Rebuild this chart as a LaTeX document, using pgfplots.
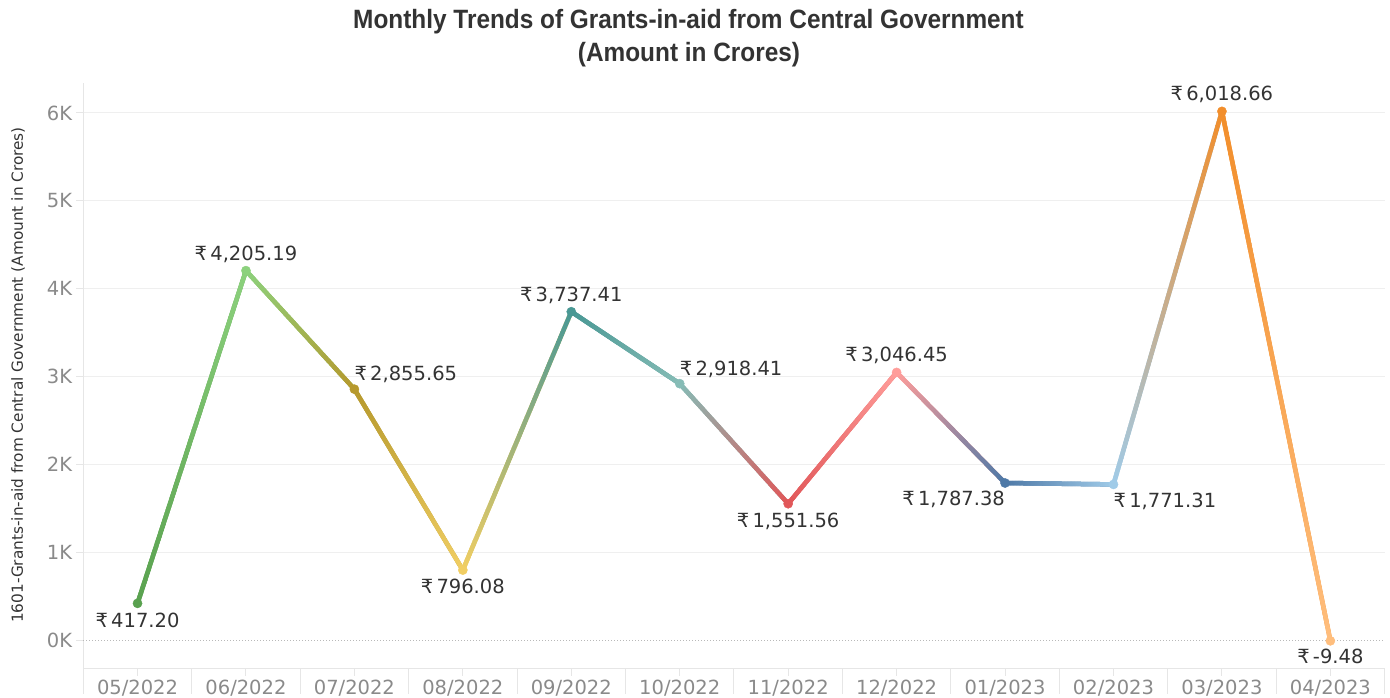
\documentclass[border=0pt]{standalone}
\usepackage{pgfplots}
\pgfplotsset{compat=1.18}
\usepackage{pgfplotstable}
\usepackage{fontspec}
\setmainfont{DejaVu Sans}
\newfontfamily\titlefont[FakeStretch=0.92]{Liberation Sans}
\usetikzlibrary{decorations.markings}

\definecolor{c0}{HTML}{59A14F}
\definecolor{c1}{HTML}{8CD17D}
\definecolor{c2}{HTML}{B6992D}
\definecolor{c3}{HTML}{F1CE63}
\definecolor{c4}{HTML}{499894}
\definecolor{c5}{HTML}{86BCB6}
\definecolor{c6}{HTML}{E15759}
\definecolor{c7}{HTML}{FF9D9A}
\definecolor{c8}{HTML}{4E79A7}
\definecolor{c9}{HTML}{A0CBE8}
\definecolor{c10}{HTML}{F28E2B}
\definecolor{c11}{HTML}{FFBE7D}
\definecolor{tickgray}{HTML}{8A8A8A}
\definecolor{gridgray}{HTML}{EFEFEF}
\definecolor{axgray}{HTML}{E6E6E6}
\definecolor{labgray}{HTML}{333333}

\pgfplotstableread{
x y
0 417.20
1 4205.19
2 2855.65
3 796.08
4 3737.41
5 2918.41
6 1551.56
7 3046.45
8 1787.38
9 1771.31
10 6018.66
11 -9.48
}\datatable

\pgfplotsset{
  grad/.style 2 args={line width=4.5pt, line cap=round, mark=none, color=#1,
    postaction={decorate},
    decoration={markings, mark=between positions 0 and 0.995 step 0.01 with {%
      \pgfmathsetmacro\gp{\pgfkeysvalueof{/pgf/decoration/mark info/sequence number}-0.5}%
      \pgfmathsetmacro\gl{\pgfdecoratedpathlength*0.01+0.7}%
      \draw[line width=4.5pt, line cap=butt, color=#2!\gp!#1] (0pt,0pt) -- (\gl pt,0pt);%
    }}},
  dot/.style={only marks, mark=*, mark size=4.6pt, draw=#1, fill=#1, mark options={draw=#1, fill=#1}},
  lab/.style 2 args={point meta=y,
    nodes near coords={₹\,\pgfmathprintnumber[fixed, fixed zerofill, precision=2, 1000 sep={,}, assume math mode=true]{\pgfplotspointmeta}},
    nodes near coords style={font=\fontsize{19.5}{19.5}\selectfont, text=labgray, inner sep=0pt, anchor=#1, yshift=#2}},
}

\begin{document}
\begin{tikzpicture}[x=1pt,y=1pt]
\begin{axis}[
  at={(83.3pt,29pt)}, anchor=south west,
  scale only axis, width=1301.3pt, height=586.3pt,
  xmin=-0.5, xmax=11.5, ymin=-330, ymax=6345,
  clip=false,
  axis x line*=bottom, axis y line*=left,
  axis line style={draw=axgray, line width=1pt},
  xtick={0,...,11},
  xticklabels={05/2022,06/2022,07/2022,08/2022,09/2022,10/2022,11/2022,12/2022,01/2023,02/2023,03/2023,04/2023},
  extra x ticks={-0.5,0.5,...,11.5},
  extra x tick labels={},
  extra x tick style={major tick length=25pt, tick align=outside, grid=none},
  ytick={1000,2000,...,6000},
  yticklabels={1K,2K,3K,4K,5K,6K},
  extra y ticks={0},
  extra y tick labels={0K},
  extra y tick style={grid style={draw=gray!55, dotted, line width=1pt}},
  ymajorgrids,
  grid style={draw=gridgray, line width=1pt},
  tick align=outside,
  major tick length=7pt,
  tick style={draw=axgray, line width=1pt},
  xticklabel style={font=\fontsize{19.5}{19.5}\selectfont, text=tickgray, inner sep=0pt, anchor=north, yshift=-4pt},
  yticklabel style={font=\fontsize{19.5}{19.5}\selectfont, text=tickgray, inner sep=0pt, anchor=east, xshift=-4pt},
]
% segments shaded from the colour of the left point to the colour of the right point
\addplot[grad={c0}{c1}, restrict x to domain=0:1] table[x=x,y=y]{\datatable};
\addplot[grad={c1}{c2}, restrict x to domain=1:2] table[x=x,y=y]{\datatable};
\addplot[grad={c2}{c3}, restrict x to domain=2:3] table[x=x,y=y]{\datatable};
\addplot[grad={c3}{c4}, restrict x to domain=3:4] table[x=x,y=y]{\datatable};
\addplot[grad={c4}{c5}, restrict x to domain=4:5] table[x=x,y=y]{\datatable};
\addplot[grad={c5}{c6}, restrict x to domain=5:6] table[x=x,y=y]{\datatable};
\addplot[grad={c6}{c7}, restrict x to domain=6:7] table[x=x,y=y]{\datatable};
\addplot[grad={c7}{c8}, restrict x to domain=7:8] table[x=x,y=y]{\datatable};
\addplot[grad={c8}{c9}, restrict x to domain=8:9] table[x=x,y=y]{\datatable};
\addplot[grad={c9}{c10}, restrict x to domain=9:10] table[x=x,y=y]{\datatable};
\addplot[grad={c10}{c11}, restrict x to domain=10:11] table[x=x,y=y]{\datatable};
% point markers with value labels
\addplot[dot=c0, restrict x to domain=0:0, lab={north}{-9pt}] table[x=x,y=y]{\datatable};
\addplot[dot=c1, restrict x to domain=1:1, lab={south}{8pt}] table[x=x,y=y]{\datatable};
\addplot[dot=c2, restrict x to domain=2:2, lab={south west}{6pt}] table[x=x,y=y]{\datatable};
\addplot[dot=c3, restrict x to domain=3:3, lab={north}{-9pt}] table[x=x,y=y]{\datatable};
\addplot[dot=c4, restrict x to domain=4:4, lab={south}{8pt}] table[x=x,y=y]{\datatable};
\addplot[dot=c5, restrict x to domain=5:5, lab={south west}{6pt}] table[x=x,y=y]{\datatable};
\addplot[dot=c6, restrict x to domain=6:6, lab={north}{-9pt}] table[x=x,y=y]{\datatable};
\addplot[dot=c7, restrict x to domain=7:7, lab={south}{8pt}] table[x=x,y=y]{\datatable};
\addplot[dot=c8, restrict x to domain=8:8, lab={north east}{-8pt}] table[x=x,y=y]{\datatable};
\addplot[dot=c9, restrict x to domain=9:9, lab={north west}{-8pt}] table[x=x,y=y]{\datatable};
\addplot[dot=c10, restrict x to domain=10:10, lab={south}{8pt}] table[x=x,y=y]{\datatable};
\addplot[dot=c11, restrict x to domain=11:11, lab={north}{-8pt}] table[x=x,y=y]{\datatable};
\end{axis}
\node[anchor=base, inner sep=0pt, text=labgray, font=\titlefont\bfseries\fontsize{26.5}{26.5}\selectfont] at (688.5,669) {Monthly Trends of Grants-in-aid from Central Government};
\node[anchor=base, inner sep=0pt, text=labgray, font=\titlefont\bfseries\fontsize{26.5}{26.5}\selectfont] at (689,636) {(Amount in Crores)};
\node[rotate=90, anchor=center, inner sep=0pt, text=labgray, font=\fontsize{15.3}{15.3}\selectfont] at (18,323) {1601-Grants-in-aid from Central Government (Amount in Crores)};
\pgfresetboundingbox
\path[use as bounding box] (0,0) rectangle (1390,698);
\end{tikzpicture}
\end{document}
